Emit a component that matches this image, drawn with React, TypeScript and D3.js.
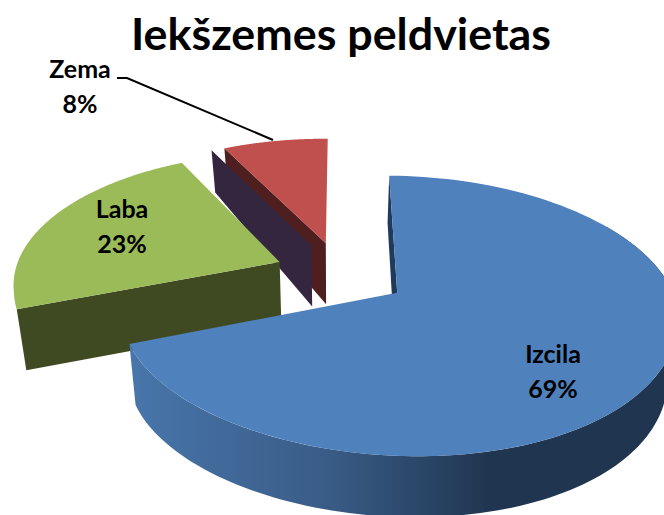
import React from "react";
import * as d3 from "d3";

const categories = ["Izcila", "Laba", "", "Zema"];
const shares = [69, 23.4, 0, 7.6];
const percentLabels = ["69%", "23%", "", "8%"];
const topColors = ["#4F81BD", "#9BBB59", "#8064A2", "#C0504D"];
const faceColors = ["#1F3A5C", "#3F4A23", "#35263F", "#4E1F1E"];
const sideStops = [
  [0, "#4876AB"],
  [0.22, "#3F6695"],
  [0.356, "#3A5D88"],
  [0.5, "#2E4C70"],
  [0.67, "#203650"],
  [1, "#203650"],
];
const title = "Iekšzemes peldvietas";

const W = 664, H = 515;
const FONT = "Lato, Carlito, 'Open Sans', sans-serif";

// Perspective model of the pie plane
const apex = { x: 396, y: 293 };
const Ry = 136.5, persp = 0.165, shear = 13.5, nearShear = 17;
const explode = 0.25, cX = -0.2, cY = 0.145;
const rotation = (0.9 * Math.PI) / 180;

const sx = d3.scaleLinear().domain([-2, 0, 2]).range([-544, 0, 552]);
const sy = d3.scaleLinear().domain([0, 1]).range([0, -Ry]);

function project(X: number, Y: number, low: boolean): [number, number] {
  const d = 1 + persp * Y;
  const skew = Y > 0 ? -shear * Y : nearShear * Y * Y;
  let x = apex.x + (sx(X) + skew) / d;
  let y = apex.y + sy(Y) / d;
  if (low) {
    const depth = 61 / (1 + 0.58 * Math.max(0, Y - 0.5));
    x += (335 - x) * 0.03;
    y += depth;
  }
  return [x, y];
}

const arcs = d3
  .pie<number>()
  .sort(null)
  .startAngle(rotation)
  .endAngle(rotation + 2 * Math.PI)(shares);

function sliceGeometry(i: number) {
  const a = arcs[i];
  const mid = (a.startAngle + a.endAngle) / 2;
  const ox = cX + explode * Math.sin(mid);
  const oy = cY + explode * Math.cos(mid);
  const rim = (t: number, low = false) =>
    project(ox + Math.sin(t), oy + Math.cos(t), low);
  const centre = (low = false) => project(ox, oy, low);
  return { a, rim, centre };
}

const line = d3.line();

function topPath(i: number) {
  const { a, rim, centre } = sliceGeometry(i);
  const ts = d3.range(0, 121).map((k) => a.startAngle + ((a.endAngle - a.startAngle) * k) / 120);
  return line([centre(), ...ts.map((t) => rim(t))])! + "Z";
}
function facePath(i: number, t: number) {
  const { rim, centre } = sliceGeometry(i);
  return line([centre(), rim(t), rim(t, true), centre(true)])! + "Z";
}
function wallPath(i: number, from: number, to: number) {
  const { rim } = sliceGeometry(i);
  const ts = d3.range(0, 121).map((k) => from + ((to - from) * k) / 120);
  return line([...ts.map((t) => rim(t)), ...ts.slice().reverse().map((t) => rim(t, true))])! + "Z";
}

const IZ = 0, LA = 1, ZERO = 2, ZE = 3;

export default function App() {
  const blue = arcs[IZ];
  return (
    <svg
      width={W}
      height={H}
      viewBox={`0 0 ${W} ${H}`}
      style={{ position: "absolute", left: 0, top: 0, background: "#fff", fontFamily: FONT }}
    >
      <defs>
        <linearGradient id="blueSide" gradientUnits="userSpaceOnUse" x1={131} x2={664} y1={0} y2={0}>
          {sideStops.map(([o, c]) => (
            <stop key={String(o)} offset={o as number} stopColor={c as string} />
          ))}
        </linearGradient>
      </defs>

      {/* far group */}
      <path d={facePath(ZE, arcs[ZE].startAngle)} fill={faceColors[ZE]} />
      <path d={topPath(ZE)} fill={topColors[ZE]} />
      <path d={facePath(ZERO, arcs[ZERO].startAngle)} fill={faceColors[ZERO]} />

      {/* green */}
      <path d={facePath(LA, arcs[LA].startAngle)} fill={faceColors[LA]} />
      <path d={topPath(LA)} fill={topColors[LA]} />

      {/* blue */}
      <path d={facePath(IZ, blue.startAngle)} fill={faceColors[IZ]} />
      <path d={wallPath(IZ, blue.startAngle + 1, blue.endAngle)} fill="url(#blueSide)" />
      <path d={topPath(IZ)} fill={topColors[IZ]} />

      {/* title */}
      <text x={341} y={50} textAnchor="middle" fontSize={44.8} fontWeight={700} fill="#000">
        {title}
      </text>

      {/* labels */}
      <g fontSize={25} fontWeight={700} fill="#000" textAnchor="middle">
        <text x={553} y={363}>{categories[IZ]}</text>
        <text x={553} y={398}>{percentLabels[IZ]}</text>
        <text x={122} y={218}>{categories[LA]}</text>
        <text x={122} y={253}>{percentLabels[LA]}</text>
        <text x={80} y={78}>{categories[ZE]}</text>
        <text x={80} y={113}>{percentLabels[ZE]}</text>
      </g>
      <polyline points="117,78 127,78 273,140" fill="none" stroke="#000" strokeWidth={2} />
    </svg>
  );
}
